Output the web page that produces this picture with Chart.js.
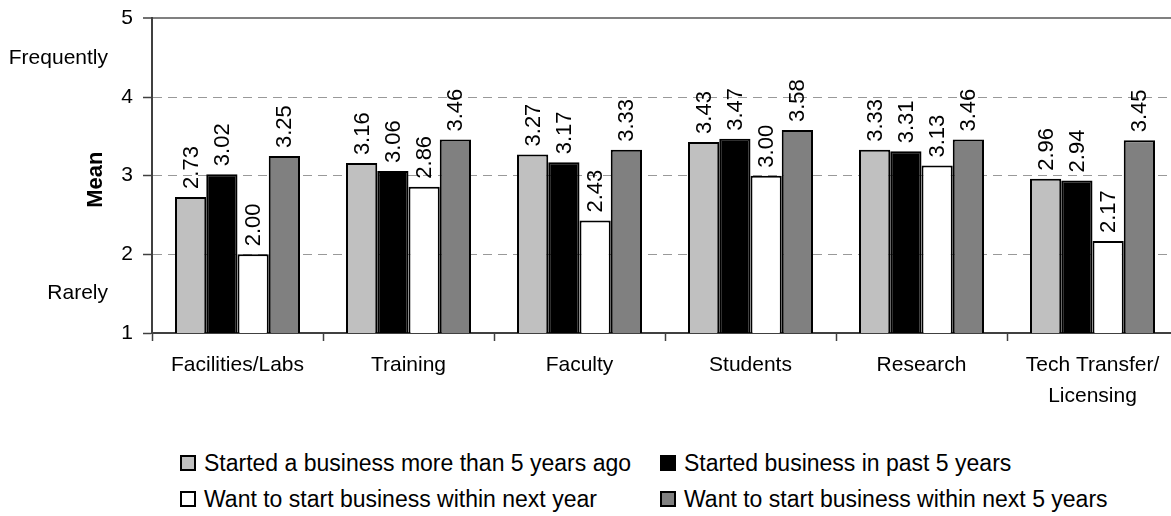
<!DOCTYPE html>
<html>
<head>
<meta charset="utf-8">
<script src="https://cdn.jsdelivr.net/npm/chart.js@4.4.1/dist/chart.umd.min.js"></script>
<style>
  body { margin: 0; background: #fff; overflow: hidden; font-family: "Liberation Sans", Arial, sans-serif; }
  #wrap { position: relative; width: 1180px; height: 516px; }
  #chartBox { position: absolute; left: 0; top: 0; width: 1180px; height: 420px; }
  #legend { position: absolute; left: 180px; top: 445px; font-size: 23px; color: #000; }
  .item { position: absolute; white-space: nowrap; display: flex; align-items: center; height: 36px; }
  .box { width: 12px; height: 12px; border: 2px solid #000; margin-right: 8px; }
</style>
</head>
<body>
<div id="wrap">
  <div id="chartBox"><canvas id="barChart"></canvas></div>
  <div id="legend"></div>
</div>
<script>
// Chart data
const categories = ["Facilities/Labs", "Training", "Faculty", "Students", "Research", ["Tech Transfer/", "Licensing"]];
const seriesNames = [
  "Started a business more than 5 years ago",
  "Started business in past 5 years",
  "Want to start business within next year",
  "Want to start business within next 5 years"
];
const startedOver5 = [2.73, 3.16, 3.27, 3.43, 3.33, 2.96];
const startedPast5 = [3.02, 3.06, 3.17, 3.47, 3.31, 2.94];
const wantNextYear = [2.00, 2.86, 2.43, 3.00, 3.13, 2.17];
const wantNext5 = [3.25, 3.46, 3.33, 3.58, 3.46, 3.45];
const yTicks = [1, 2, 3, 4, 5];
const sideLabels = [{ value: 4.5, text: "Frequently" }, { value: 1.5, text: "Rarely" }];

const colors = ["#c0c0c0", "#000000", "#ffffff", "#808080"];
const fontFamily = "'Liberation Sans', Arial, sans-serif";

// Draws the rotated value labels above each bar
const valueLabels = {
  id: "valueLabels",
  afterDatasetsDraw(chart) {
    const ctx = chart.ctx;
    ctx.save();
    ctx.font = "22px " + fontFamily;
    ctx.fillStyle = "#000";
    chart.data.datasets.forEach((ds, i) => {
      chart.getDatasetMeta(i).data.forEach((bar, j) => {
        ctx.save();
        ctx.translate(bar.x, bar.y - 8);
        ctx.rotate(-Math.PI / 2);
        ctx.textAlign = "left";
        ctx.textBaseline = "middle";
        ctx.fillText(ds.data[j].toFixed(2), 0, 1);
        ctx.restore();
      });
    });
    ctx.restore();
  }
};

// Frequently / Rarely labels and the "Mean" title on the left
const sideText = {
  id: "sideText",
  afterDraw(chart) {
    const ctx = chart.ctx;
    const y = chart.scales.y;
    ctx.save();
    ctx.fillStyle = "#000";
    ctx.font = "21px " + fontFamily;
    ctx.textAlign = "right";
    ctx.textBaseline = "middle";
    sideLabels.forEach((s) => ctx.fillText(s.text, 108, y.getPixelForValue(s.value)));
    ctx.font = "bold 22px " + fontFamily;
    ctx.translate(96, (y.top + y.bottom) / 2 + 4);
    ctx.rotate(-Math.PI / 2);
    ctx.textAlign = "center";
    ctx.fillText("Mean", 0, 0);
    ctx.restore();
  }
};

const datasets = [startedOver5, startedPast5, wantNextYear, wantNext5].map((d, i) => ({
  label: seriesNames[i],
  data: d,
  backgroundColor: colors[i],
  borderColor: "#000",
  borderWidth: 2,
  borderSkipped: "bottom",
  barPercentage: 1,
  categoryPercentage: 0.731
}));

new Chart(document.getElementById("barChart"), {
  type: "bar",
  data: { labels: categories, datasets: datasets },
  options: {
    responsive: true,
    maintainAspectRatio: false,
    animation: false,
    layout: { padding: { top: 16, right: 2, left: 0, bottom: 0 } },
    plugins: { legend: { display: false }, tooltip: { enabled: false } },
    scales: {
      x: {
        afterFit: (scale) => { scale.height = 87; },
        grid: { offset: true, drawOnChartArea: false, tickLength: 8, tickColor: "#404040", tickWidth: 1.5 },
        border: { color: "#404040", width: 2 },
        ticks: { color: "#000", padding: 8, maxRotation: 0, autoSkip: false, font: { family: fontFamily, size: 21, lineHeight: 1.5 } }
      },
      y: {
        min: 1,
        max: 5,
        afterFit: (scale) => { scale.width = 152; },
        afterBuildTicks: (scale) => { scale.ticks = yTicks.map((v) => ({ value: v })); },
        grid: {
          color: (c) => (c.tick && c.tick.value === 5 ? "#808080" : c.tick && c.tick.value === 1 ? "rgba(0,0,0,0)" : "#999999"),
          lineWidth: (c) => (c.tick && c.tick.value === 5 ? 2 : 1),
          tickLength: 9,
          tickColor: "#404040",
          tickWidth: 1.5
        },
        border: { color: "#404040", width: 2, dash: (c) => (c.tick && c.tick.value === 5 ? [] : [9, 6]) },
        ticks: { color: "#000", padding: 10, font: { family: fontFamily, size: 21, lineHeight: 0.8 } }
      }
    }
  },
  plugins: [valueLabels, sideText]
});

// Legend in two columns
const legend = document.getElementById("legend");
const positions = [[0, 0], [480, 0], [0, 36], [480, 36]];
seriesNames.forEach((name, i) => {
  const item = document.createElement("div");
  item.className = "item";
  item.style.left = positions[i][0] + "px";
  item.style.top = positions[i][1] + "px";
  const box = document.createElement("span");
  box.className = "box";
  box.style.background = colors[i];
  item.appendChild(box);
  item.appendChild(document.createTextNode(name));
  legend.appendChild(item);
});
</script>
</body>
</html>
